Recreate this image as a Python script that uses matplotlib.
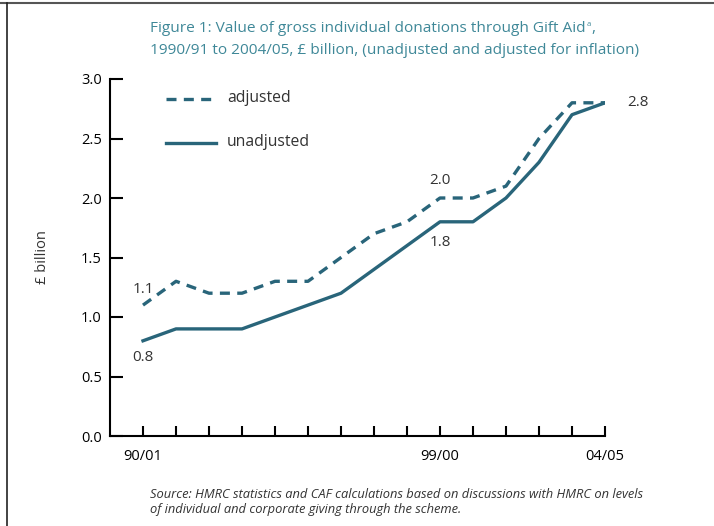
import matplotlib.pyplot as plt
from matplotlib.lines import Line2D

# data (1990/91 .. 2004/05)
years = ['90/01', '91/92', '92/93', '93/94', '94/95', '95/96', '96/97', '97/98',
         '98/99', '99/00', '00/01', '01/02', '02/03', '03/04', '04/05']
adjusted = [1.1, 1.3, 1.2, 1.2, 1.3, 1.3, 1.5, 1.7, 1.8, 2.0, 2.0, 2.1, 2.5, 2.8, 2.8]
unadjusted = [0.8, 0.9, 0.9, 0.9, 1.0, 1.1, 1.2, 1.4, 1.6, 1.8, 1.8, 2.0, 2.3, 2.7, 2.8]
shown_labels = {0: '90/01', 9: '99/00', 14: '04/05'}

line_col = '#29657a'
title_col = '#3f8898'
txt_col = '#333333'
plt.rcParams['font.family'] = ['Open Sans', 'DejaVu Sans']

fig = plt.figure(figsize=(7.14, 5.26), dpi=100)
ax = fig.add_axes([110/714, 1-436/526, (605-110)/714, (436-79)/526])

x = list(range(len(years)))
ax.plot(x, adjusted, color=line_col, lw=2.4, ls=(0, (3, 2.2)))
ax.plot(x, unadjusted, color=line_col, lw=2.4)

ax.set_xlim(-1, 14)
ax.set_ylim(0, 3.0)
yt = [0, 0.5, 1.0, 1.5, 2.0, 2.5, 3.0]
ax.set_yticks(yt)
ax.set_yticklabels(['%.1f' % v for v in yt])
ax.set_xticks(x)
ax.set_xticklabels([shown_labels.get(i, '') for i in x])
ax.tick_params(axis='y', direction='in', length=9.5, width=1.5, labelsize=10.5, pad=6)
ax.tick_params(axis='x', direction='in', length=7.5, width=1.5, labelsize=10.5, pad=9)
for s in ['top', 'right']:
    ax.spines[s].set_visible(False)
for s in ['left', 'bottom']:
    ax.spines[s].set_linewidth(1.5)
ax.set_ylabel('£ billion', fontsize=10.5, color=txt_col)
ax.yaxis.set_label_coords((50-110)/495, 0.5)

# value labels
ax.text(0, 1.23, '1.1', ha='center', va='center', fontsize=11, color=txt_col)
ax.text(0, 0.66, '0.8', ha='center', va='center', fontsize=11, color=txt_col)
ax.text(9, 2.15, '2.0', ha='center', va='center', fontsize=11, color=txt_col)
ax.text(9, 1.63, '1.8', ha='center', va='center', fontsize=11, color=txt_col)
ax.text(15.0, 2.8, '2.8', ha='center', va='center', fontsize=11, color=txt_col, clip_on=False)

# legend drawn by hand
ax.plot([0.7, 2.2], [2.83, 2.83], color=line_col, lw=2.4, ls=(0, (3, 2.2)))
ax.plot([0.7, 2.2], [2.46, 2.46], color=line_col, lw=2.4)
ax.text(2.55, 2.84, 'adjusted', va='center', fontsize=11.3, color=txt_col)
ax.text(2.55, 2.47, 'unadjusted', va='center', fontsize=11.3, color=txt_col)

t1 = fig.text(150/714, 1-29/526, 'Figure 1: Value of gross individual donations through Gift Aid',
              color=title_col, fontsize=11.1, va='center')
fig.canvas.draw()
bb = t1.get_window_extent()
fig.text(bb.x1/714 + 0.001, 1-25/526, 'a', color=title_col, fontsize=5.5, va='center')
fig.text(bb.x1/714 + 0.008, 1-29/526, ',', color=title_col, fontsize=11.1, va='center')
fig.text(150/714, 1-50/526, '1990/91 to 2004/05, £ billion, (unadjusted and adjusted for inflation)',
         color=title_col, fontsize=11.1, va='center')
fig.text(150/714, 1-494/526, 'Source: HMRC statistics and CAF calculations based on discussions with HMRC on levels',
         style='italic', fontsize=9.3, va='center', color=txt_col)
fig.text(150/714, 1-509/526, 'of individual and corporate giving through the scheme.',
         style='italic', fontsize=9.3, va='center', color=txt_col)

# page frame
fig.add_artist(Line2D([0, 1], [1-3/526, 1-3/526], color='#555555', lw=1.5, transform=fig.transFigure))
fig.add_artist(Line2D([7/714, 7/714], [0, 1-3/526], color='#222222', lw=1.2, transform=fig.transFigure))

fig.savefig('out.png', dpi=100)
